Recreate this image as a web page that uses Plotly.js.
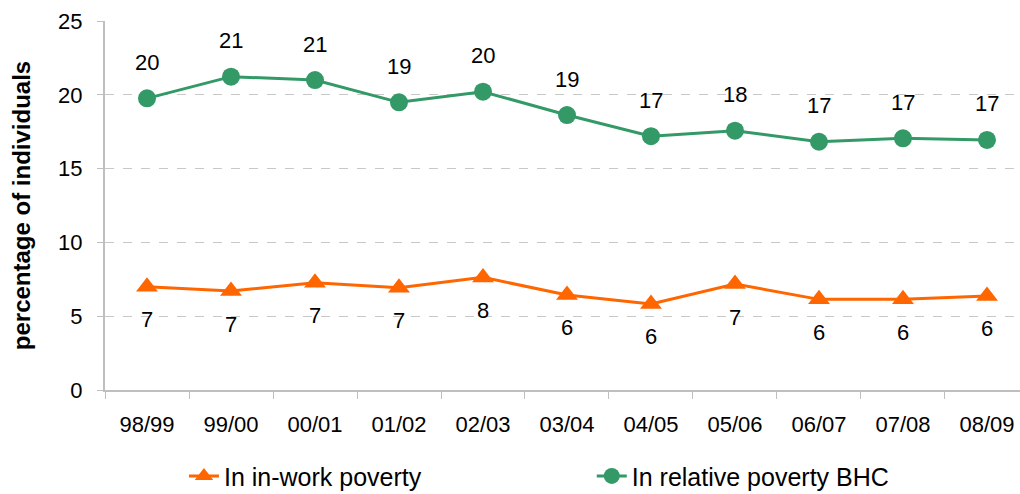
<!DOCTYPE html>
<html>
<head>
<meta charset="utf-8">
<script src="https://cdn.plot.ly/plotly-3.0.1.min.js"></script>
<style>html,body{margin:0;padding:0;background:#fff;}#chart{width:1020px;height:494px;}</style>
</head>
<body>
<div id="chart"></div>
<script>
var years = ["98/99","99/00","00/01","01/02","02/03","03/04","04/05","05/06","06/07","07/08","08/09"];
var inWork = [7.0, 6.7, 7.27, 6.93, 7.63, 6.44, 5.83, 7.18, 6.14, 6.14, 6.37];
var relative = [19.76, 21.23, 21.0, 19.49, 20.21, 18.63, 17.2, 17.57, 16.82, 17.05, 16.94];
var inWorkName = "In in-work poverty";
var relativeName = "In relative poverty BHC";

var orange = "#ff6600", green = "#339966";
var font = "Liberation Sans, Arial, sans-serif";

var traces = [
  {x: years, y: inWork, name: inWorkName, type: "scatter", mode: "lines+markers", legend: "legend",
   line: {color: orange, width: 3}, marker: {symbol: "triangle-up", size: 19, color: orange}},
  {x: years, y: relative, name: relativeName, type: "scatter", mode: "lines+markers", legend: "legend2",
   line: {color: green, width: 3}, marker: {symbol: "circle", size: 18, color: green}}
];

var annotations = [];
years.forEach(function(c, i){
  annotations.push({x: c, y: relative[i], text: String(Math.round(relative[i])), showarrow: false,
    xanchor: "center", yanchor: "middle", yshift: 36, font: {family: font, size: 22, color: "#000"}});
  annotations.push({x: c, y: inWork[i], text: String(Math.round(inWork[i])), showarrow: false,
    xanchor: "center", yanchor: "middle", yshift: -33, font: {family: font, size: 22, color: "#000"}});
});

var legendBase = {orientation: "h", xref: "paper", xanchor: "left", yref: "container", y: 0.036,
  yanchor: "middle", bgcolor: "rgba(0,0,0,0)", font: {family: font, size: 25, color: "#000"}};

var layout = {
  width: 1020, height: 494,
  margin: {l: 105, r: 0, t: 21, b: 104},
  paper_bgcolor: "#fff", plot_bgcolor: "#fff",
  font: {family: font, size: 22, color: "#000"},
  showlegend: true,
  legend: Object.assign({}, legendBase, {x: 0.0863}),
  legend2: Object.assign({}, legendBase, {x: 0.532}),
  xaxis: {type: "category", range: [-0.5, 10.393], showgrid: false, zeroline: false,
    showline: true, linecolor: "#bfbfbf", linewidth: 2, ticks: "outside", tickson: "boundaries",
    ticklen: 7, tickcolor: "#bfbfbf", tickwidth: 1, ticklabelstandoff: 14,
    tickfont: {family: font, size: 22}},
  yaxis: {range: [0, 25], dtick: 5, tick0: 0, showgrid: true, gridcolor: "#c8c8c8", griddash: "dash",
    gridwidth: 1, zeroline: false, showline: true, linecolor: "#bfbfbf", linewidth: 2,
    ticks: "outside", ticklen: 6, tickcolor: "#bfbfbf", ticklabelstandoff: 10,
    tickfont: {family: font, size: 22},
    title: {text: "percentage of individuals", standoff: 21, font: {family: font, size: 24, weight: "bold"}}},
  annotations: annotations
};

Plotly.newPlot("chart", traces, layout, {staticPlot: true, displayModeBar: false});
</script>
</body>
</html>
